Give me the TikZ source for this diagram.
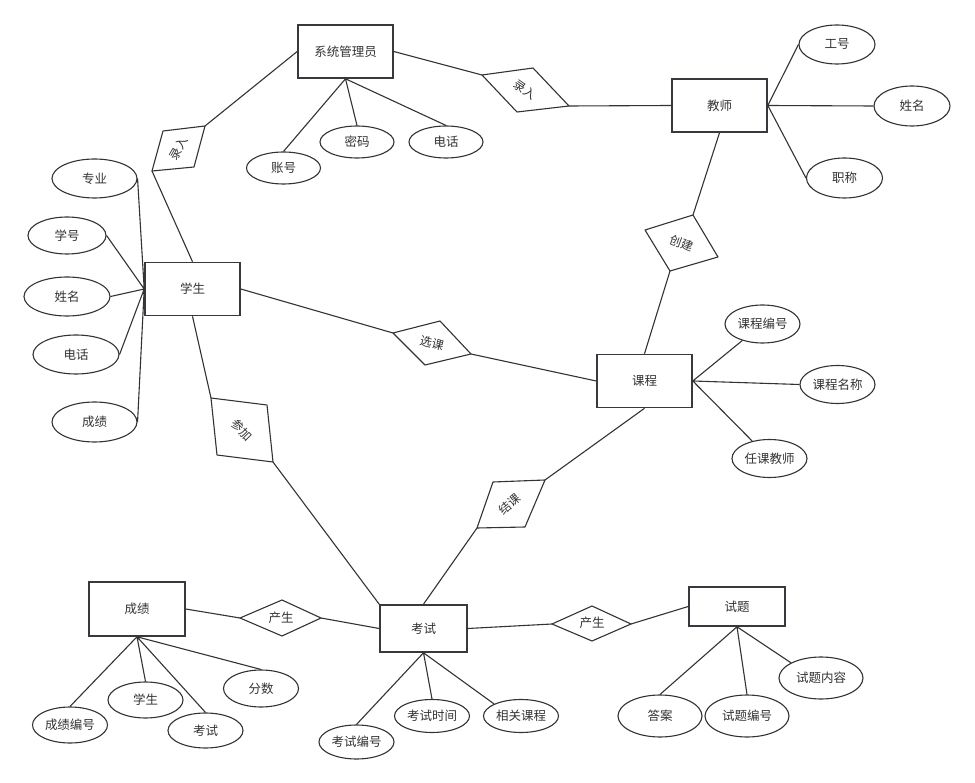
\documentclass[tikz,border=0pt]{standalone}
\usepackage{fontspec}
\setmainfont{Noto Sans CJK SC}
\usetikzlibrary{shapes.geometric}
\definecolor{inkgray}{HTML}{333333}
\definecolor{boxgray}{HTML}{36393D}
\begin{document}
\begin{tikzpicture}[x=1pt,y=-1pt,
  font=\fontsize{12.5}{15}\selectfont,
  every node/.style={text=inkgray},
  entity/.style={draw=boxgray,line width=1.6pt,fill=white,
    minimum width=95pt,minimum height=53pt,inner sep=0pt},
  attr/.style={draw=inkgray,line width=1.1pt,ellipse,fill=white,
    minimum width=75pt,minimum height=38pt,inner sep=0pt},
  rel/.style={draw=inkgray,line width=1.1pt,fill=white,line join=round},
  rellabel/.style={inner sep=0pt,font=\fontsize{12}{14}\selectfont},
  link/.style={draw=inkgray,line width=1.1pt}]
  \useasboundingbox (0,0) rectangle (975,783);

  \coordinate (l1a) at (205,126);
  \coordinate (l1b) at (163,131);
  \coordinate (l1c) at (152,171);
  \coordinate (l1d) at (194,167);
  \coordinate (l2a) at (482,75);
  \coordinate (l2b) at (533,68);
  \coordinate (l2c) at (569,106);
  \coordinate (l2d) at (517,112);
  \coordinate (cja) at (693,215);
  \coordinate (cjb) at (645,230);
  \coordinate (cjc) at (670,271);
  \coordinate (cjd) at (718,257);
  \coordinate (xka) at (393,333);
  \coordinate (xkb) at (440,321);
  \coordinate (xkc) at (471,354);
  \coordinate (xkd) at (425,365);
  \coordinate (cga) at (211,398);
  \coordinate (cgb) at (267,405);
  \coordinate (cgc) at (273,462);
  \coordinate (cgd) at (217,455);
  \coordinate (jka) at (545,480);
  \coordinate (jkb) at (493,482);
  \coordinate (jkc) at (477,528);
  \coordinate (jkd) at (525,527);
  \coordinate (s1a) at (240,618);
  \coordinate (s1b) at (282,600);
  \coordinate (s1c) at (321,618);
  \coordinate (s1d) at (282,636);
  \coordinate (s2a) at (552,624);
  \coordinate (s2b) at (592,606);
  \coordinate (s2c) at (631,624);
  \coordinate (s2d) at (592,641);

  \node[entity] (admin) at (345.5,51.5) {系统管理员};
  \node[entity] (teacher) at (719.5,105.5) {教师};
  \node[entity] (student) at (192.5,289) {学生};
  \node[entity] (course) at (644.5,381) {课程};
  \node[entity,minimum width=87pt,minimum height=47pt] (exam) at (423.5,628.5) {考试};
  \node[entity,minimum width=96pt,minimum height=54pt] (grade) at (137,609) {成绩};
  \node[entity,minimum width=96pt,minimum height=39pt] (question) at (737,606.5) {试题};

  \draw[link]
  (admin.west) -- (l1a)
  (l1c) -- (student.north)
  (admin.east) -- (l2a)
  (l2c) -- (teacher.west)
  (teacher.south) -- (cja)
  (cjc) -- (course.north)
  (student.east) -- (xka)
  (xkc) -- (course.west)
  (student.south) -- (cga)
  (cgc) -- (exam.north west)
  (course.south) -- (jka)
  (jkc) -- (exam.north)
  (grade.east) -- (s1a)
  (s1c) -- (exam.west)
  (exam.east) -- (s2a)
  (s2c) -- (question.west);

  \draw[rel] (l1a) -- (l1b) -- (l1c) -- (l1d) -- cycle;
  \draw[rel] (l2a) -- (l2b) -- (l2c) -- (l2d) -- cycle;
  \draw[rel] (cja) -- (cjb) -- (cjc) -- (cjd) -- cycle;
  \draw[rel] (xka) -- (xkb) -- (xkc) -- (xkd) -- cycle;
  \draw[rel] (cga) -- (cgb) -- (cgc) -- (cgd) -- cycle;
  \draw[rel] (jka) -- (jkb) -- (jkc) -- (jkd) -- cycle;
  \draw[rel] (s1a) -- (s1b) -- (s1c) -- (s1d) -- cycle;
  \draw[rel] (s2a) -- (s2b) -- (s2c) -- (s2d) -- cycle;
  \node[rellabel,rotate=60] (lr1) at (178.5,148.5) {录入};
  \node[rellabel,rotate=-35] (lr2) at (525,90) {录入};
  \node[rellabel,rotate=-20] (cj) at (681.5,243) {创建};
  \node[rellabel,rotate=-15] (xk) at (432,343) {选课};
  \node[rellabel,rotate=-45] (cg) at (242,430) {参加};
  \node[rellabel,rotate=40] (jk) at (510,504) {结课};
  \node (cs1) at (281,618) {产生};
  \node (cs2) at (592,623) {产生};

  \node[attr,minimum width=74pt,minimum height=32pt] (zhanghao) at (283.5,168) {账号};
  \node[attr,minimum width=74pt,minimum height=32pt] (mima) at (357,142) {密码};
  \node[attr,minimum width=74pt,minimum height=32pt] (adphone) at (446,142) {电话};
  \node[attr,minimum width=76pt,minimum height=39pt] (gonghao) at (837,44.5) {工号};
  \node[attr,minimum width=76pt,minimum height=40pt] (tname) at (912,106) {姓名};
  \node[attr,minimum width=76pt,minimum height=40pt] (zhicheng) at (844.5,178) {职称};
  \node[attr,minimum width=85pt,minimum height=39pt] (major) at (94.5,178.5) {专业};
  \node[attr,minimum width=78pt,minimum height=37pt] (stuno) at (67,235.5) {学号};
  \node[attr,minimum width=86pt,minimum height=39pt] (sname) at (67,296.5) {姓名};
  \node[attr,minimum width=86pt,minimum height=39pt] (sphone) at (76,354.5) {电话};
  \node[attr,minimum width=85pt,minimum height=40pt] (sgrade) at (94.5,422) {成绩};
  \node[attr] (courseno) at (762.5,324) {课程编号};
  \node[attr] (cname) at (837.5,384.5) {课程名称};
  \node[attr] (lecturer) at (769.5,458.5) {任课教师};
  \node[attr,minimum height=36pt] (gradeno) at (70,725) {成绩编号};
  \node[attr,minimum height=36pt] (gstudent) at (145.5,700) {学生};
  \node[attr,minimum height=35pt] (gexam) at (205.5,730.5) {考试};
  \node[attr,minimum height=37pt] (score) at (261,688.5) {分数};
  \node[attr,minimum height=34pt] (examno) at (356.5,742) {考试编号};
  \node[attr,minimum height=33pt] (examtime) at (432,716) {考试时间};
  \node[attr,minimum height=33pt] (relcourse) at (521,716) {相关课程};
  \node[attr,minimum width=84pt,minimum height=42pt] (answer) at (660,716) {答案};
  \node[attr,minimum width=84pt,minimum height=42pt] (qno) at (747,716) {试题编号};
  \node[attr,minimum width=84pt,minimum height=42pt] (qtext) at (821,678) {试题内容};

  \draw[link]
  (admin.south) -- (zhanghao.north)
  (admin.south) -- (mima.north)
  (admin.south) -- (adphone.north)
  (teacher.east) -- (gonghao.west)
  (teacher.east) -- (tname.west)
  (teacher.east) -- (zhicheng.west)
  (student.west) -- (major.east)
  (student.west) -- (stuno.east)
  (student.west) -- (sname.east)
  (student.west) -- (sphone.east)
  (student.west) -- (sgrade.east)
  (course.east) -- (courseno)
  (course.east) -- (cname.west)
  (course.east) -- (lecturer)
  (grade.south) -- (gradeno.north)
  (grade.south) -- (gstudent.north)
  (grade.south) -- (gexam.north)
  (grade.south) -- (score.north)
  (exam.south) -- (examno.north)
  (exam.south) -- (examtime.north)
  (exam.south) -- (relcourse.north west)
  (question.south) -- (answer.north)
  (question.south) -- (qno.north)
  (question.south) -- (qtext.north west);
\end{tikzpicture}
\end{document}
